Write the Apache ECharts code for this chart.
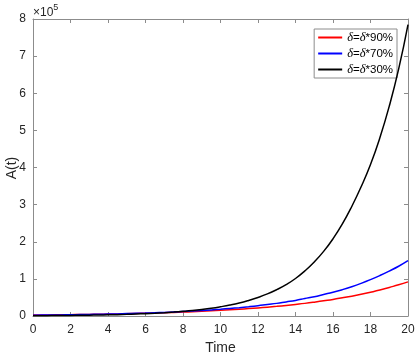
<!DOCTYPE html>
<html>
<head>
<meta charset="utf-8">
<script src="https://cdn.jsdelivr.net/npm/echarts@6/dist/echarts.min.js"></script>
<style>
html,body{margin:0;padding:0;background:#fff;}
#chart{width:415px;height:355px;}
</style>
</head>
<body>
<div id="chart"></div>
<script>
// Time points
var time = [0,0.5,1,1.5,2,2.5,3,3.5,4,4.5,5,5.5,6,6.5,7,7.5,8,8.5,9,9.5,10,10.5,11,11.5,12,12.5,13,13.5,14,14.5,15,15.5,16,16.5,17,17.5,18,18.5,19,19.5,20];
// A(t) values, in units of 10^5
var a90 = [0.025,0.027,0.030,0.033,0.036,0.039,0.043,0.047,0.052,0.057,0.062,0.068,0.074,0.081,0.089,0.097,0.106,0.116,0.127,0.139,0.152,0.166,0.182,0.199,0.218,0.238,0.260,0.285,0.312,0.340,0.373,0.410,0.447,0.490,0.535,0.585,0.640,0.700,0.770,0.840,0.920];
var a70 = [0.022,0.025,0.027,0.030,0.034,0.038,0.042,0.046,0.052,0.057,0.064,0.071,0.078,0.087,0.097,0.108,0.120,0.133,0.148,0.164,0.182,0.203,0.225,0.250,0.278,0.310,0.340,0.380,0.420,0.470,0.520,0.580,0.640,0.710,0.790,0.880,0.980,1.090,1.210,1.340,1.490];
var a30 = [0.008,0.009,0.011,0.013,0.016,0.019,0.022,0.026,0.031,0.037,0.044,0.053,0.063,0.074,0.088,0.105,0.125,0.148,0.176,0.209,0.249,0.295,0.351,0.420,0.500,0.595,0.710,0.845,1.010,1.215,1.455,1.740,2.080,2.480,2.950,3.480,4.080,4.800,5.650,6.650,7.850];
var seriesNames = ['δ=δ*90%','δ=δ*70%','δ=δ*30%'];
var legendRich = ['{i|δ}{n|=}{i|δ}{n|*90%}','{i|δ}{n|=}{i|δ}{n|*70%}','{i|δ}{n|=}{i|δ}{n|*30%}'];
var xTicks = {min:0, max:20, interval:2};
var yTicks = {min:0, max:8, interval:1};

function pairs(xs, ys){ return xs.map(function(x,i){return [x, ys[i]];}); }

var axisGray = '#8c8c8c';
var font = 'Liberation Sans, Arial, sans-serif';
var chart = echarts.init(document.getElementById('chart'), null, {renderer:'canvas'});
var baseX = {
  type:'value', min:xTicks.min, max:xTicks.max, interval:xTicks.interval,
  axisLine:{show:true, onZero:false, lineStyle:{color:axisGray, width:1}},
  axisTick:{show:true, inside:true, length:4, lineStyle:{color:axisGray}},
  splitLine:{show:false}
};
var baseY = {
  type:'value', min:yTicks.min, max:yTicks.max, interval:yTicks.interval,
  axisLine:{show:true, onZero:false, lineStyle:{color:axisGray, width:1}},
  axisTick:{show:true, inside:true, length:4, lineStyle:{color:axisGray}},
  splitLine:{show:false}
};
var option = {
  animation:false,
  backgroundColor:'#fff',
  grid:{left:33, right:7, top:19, bottom:39, containLabel:false, outerBoundsMode:'none'},
  xAxis:[
    Object.assign({}, baseX, {position:'bottom',
      axisLabel:{show:true, color:'#262626', fontSize:12, fontFamily:font, margin:8},
      name:'Time', nameLocation:'middle', nameGap:24,
      nameTextStyle:{color:'#262626', fontSize:14, fontFamily:font}}),
    Object.assign({}, baseX, {position:'top', axisLabel:{show:false}})
  ],
  yAxis:[
    Object.assign({}, baseY, {position:'left',
      axisLabel:{show:true, color:'#262626', fontSize:12, fontFamily:font, margin:7}}),
    Object.assign({}, baseY, {position:'right', axisLabel:{show:false}})
  ],
  legend:{
    show:true, orient:'vertical', right:18, top:29,
    data:seriesNames,
    icon:'rect', itemWidth:24, itemHeight:2, itemGap:3, itemStyle:{borderWidth:0},
    backgroundColor:'#fff', borderColor:'#8c8c8c', borderWidth:1, borderRadius:0,
    padding:[2,4,2,4],
    formatter:function(name){ return legendRich[seriesNames.indexOf(name)]; },
    textStyle:{fontSize:11.5, fontFamily:font, color:'#000',
      rich:{i:{fontStyle:'italic', fontFamily:'Liberation Serif, Times New Roman, serif', fontSize:12.5, color:'#000'},
            n:{fontSize:11.5, fontFamily:font, color:'#000'}}}
  },
  graphic:[{
    type:'text', left:33, top:3,
    style:{rich:{a:{fontSize:12, fontFamily:font, fill:'#262626', padding:[6,0,0,0]}, b:{fontSize:9, fontFamily:font, fill:'#262626', padding:[0,0,5,0]}},
      text:'{a|×10}{b|5}', fill:'#262626'}
  },{
    type:'text', x:12, y:168, rotation:Math.PI/2,
    style:{text:'A(t)', align:'center', verticalAlign:'middle', fontSize:14, fontFamily:font, fill:'#262626'}
  }],
  series:[
    {name:seriesNames[0], type:'line', data:pairs(time,a90), smooth:true, showSymbol:false, symbol:'none', lineStyle:{color:'#ff0000', width:1.5}, itemStyle:{color:'#ff0000'}, z:3},
    {name:seriesNames[1], type:'line', data:pairs(time,a70), smooth:true, showSymbol:false, symbol:'none', lineStyle:{color:'#0000ff', width:1.5}, itemStyle:{color:'#0000ff'}, z:4},
    {name:seriesNames[2], type:'line', data:pairs(time,a30), smooth:true, showSymbol:false, symbol:'none', lineStyle:{color:'#000000', width:1.5}, itemStyle:{color:'#000000'}, z:5}
  ]
};
chart.setOption(option);
</script>
</body>
</html>
